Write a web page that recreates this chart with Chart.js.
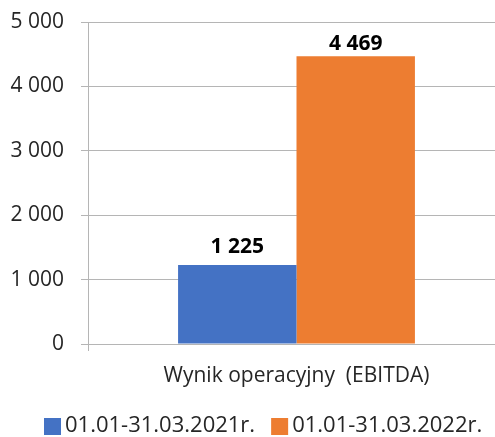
<!DOCTYPE html>
<html>
<head>
<meta charset="utf-8">
<script src="https://cdn.jsdelivr.net/npm/chart.js"></script>
<style>
  html, body { margin: 0; padding: 0; background: #fff; overflow: hidden; }
  canvas { display: block; }
</style>
</head>
<body>
<canvas id="ebitda-chart" width="505" height="437"></canvas>
<script>
// Chart data
const categories = ['Wynik operacyjny  (EBITDA)'];
const seriesLabels = ['01.01-31.03.2021r.', '01.01-31.03.2022r.'];
const values2021 = [1225];
const values2022 = [4469];
const yTickValues = [0, 1000, 2000, 3000, 4000, 5000];

const seriesColors = ['#4472C4', '#ED7D31'];
const fontFamily = '"Open Sans", "Liberation Sans", sans-serif';
const textColor = '#262626';
const gridColor = '#b5b5b5';

// "4469" -> "4 469"
function fmt(v) {
    return v.toString().replace(/\B(?=(\d{3})+(?!\d))/g, ' ');
}

// value labels above the bars
const labelGap = [12, 6];
const valueLabels = {
    id: 'valueLabels',
    afterDatasetsDraw(chart) {
        const ctx = chart.ctx;
        ctx.save();
        ctx.font = 'bold 21px ' + fontFamily;
        ctx.fillStyle = '#000';
        ctx.textAlign = 'center';
        ctx.textBaseline = 'alphabetic';
        chart.data.datasets.forEach(function(ds, i) {
            chart.getDatasetMeta(i).data.forEach(function(bar, j) {
                ctx.fillText(fmt(ds.data[j]), bar.x, bar.y - labelGap[i]);
            });
        });
        ctx.restore();
    }
};

// legend drawn by hand so the square/text spacing matches
const bottomLegend = {
    id: 'bottomLegend',
    afterDraw(chart) {
        const ctx = chart.ctx;
        ctx.save();
        ctx.font = '22px ' + fontFamily;
        ctx.textBaseline = 'middle';
        ctx.textAlign = 'left';
        let x = 44;
        const y = 426;
        chart.data.datasets.forEach(function(ds) {
            ctx.fillStyle = ds.backgroundColor;
            ctx.fillRect(x, y - 8, 17, 17);
            x += 21;
            ctx.fillStyle = textColor;
            ctx.fillText(ds.label, x, y);
            x += ctx.measureText(ds.label).width + 16;
        });
        ctx.restore();
    }
};

const ctx = document.getElementById('ebitda-chart').getContext('2d');
const ebitdaChart = new Chart(ctx, {
    type: 'bar',
    data: {
        labels: categories,
        datasets: [{
            label: seriesLabels[0],
            data: values2021,
            backgroundColor: seriesColors[0],
            categoryPercentage: 0.568,
            barPercentage: 1
        }, {
            label: seriesLabels[1],
            data: values2022,
            backgroundColor: seriesColors[1],
            categoryPercentage: 0.568,
            barPercentage: 1
        }]
    },
    options: {
        responsive: false,
        animation: false,
        layout: {
            padding: { top: 22, left: 0, right: 0, bottom: 0 }
        },
        scales: {
            x: {
                grid: {
                    display: true,
                    drawOnChartArea: false,
                    offset: true,
                    color: gridColor,
                    tickLength: 7
                },
                border: { display: true, color: gridColor },
                ticks: {
                    color: textColor,
                    font: { family: fontFamily, size: 21 },
                    padding: 12
                },
                afterFit: function(scale) {
                    scale.height = 93;
                }
            },
            y: {
                min: 0,
                max: 5000,
                afterBuildTicks: function(scale) {
                    scale.ticks = yTickValues.map(function(v) { return { value: v }; });
                },
                grid: {
                    color: gridColor,
                    tickLength: 7
                },
                border: { display: true, color: gridColor },
                ticks: {
                    color: textColor,
                    font: { family: fontFamily, size: 21 },
                    padding: 17,
                    callback: function(value) {
                        return fmt(value);
                    }
                },
                afterFit: function(scale) {
                    scale.width = 88;
                    // tick padding would otherwise push the plot top down
                    scale.paddingTop = 0;
                    scale.paddingBottom = 0;
                }
            }
        },
        plugins: {
            legend: { display: false },
            tooltip: { enabled: false }
        }
    },
    plugins: [valueLabels, bottomLegend]
});
</script>
</body>
</html>
